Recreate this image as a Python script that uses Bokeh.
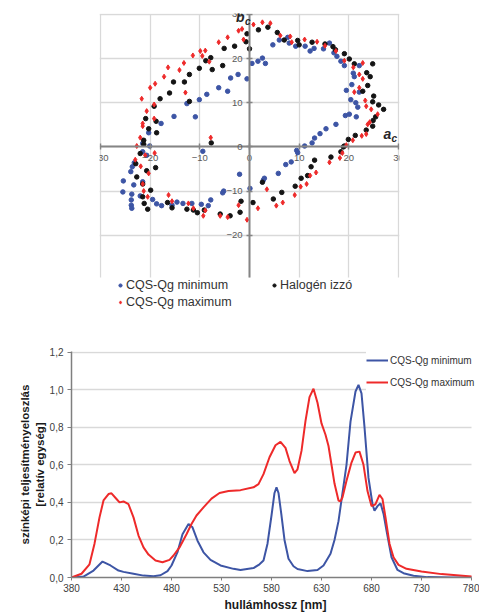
from bokeh.plotting import figure
from bokeh.models import (FixedTicker, Legend, LegendItem, Label, CustomJSTickFormatter, Range1d)
from bokeh.embed import file_html
from bokeh.resources import INLINE

FONT = "Liberation Sans"

# ---------------- data: chroma scatter (a_c, b_c) ----------------
min_a = [-20.3, -20.1, -21.5, -17.8, -15.2, -12.6, -10.9, -10.1, -8.6, -6.2,
         -4.4, -3.8, -2.3, -0.5, 0.5, 1.7, 2.6, 3.2, 4.7, 6.0,
         7.7, 8.0, 9.3, 11.2, 12.2, 13.0, 14.9, 16.1, 17.0, 17.6,
         18.4, 19.1, 20.9, 21.1, 22.1, 20.6, 19.5, 22.1, 20.4, 21.4,
         21.8, 21.5, 20.1, 19.3, 17.4, 15.4, 14.2, 13.1, 12.6, 11.1,
         9.5, 9.7, 8.4, 7.3, 5.8, 3.0, 2.8, 0.1, -2.0, -5.2,
         -5.4, -7.8, -8.3, -9.7, -9.4, -11.6, -13.4, -14.6, -15.6, -17.7,
         -18.7, -19.5, -22.0, -23.7, -23.8, -23.8, -23.7, -25.4, -25.5, -23.3,
         -23.9, -23.6, -23.2, -21.5, -21.5, -20.7]
min_b = [3.2, 0.2, 0.8, 5.3, 6.9, 9.8, 6.8, 10.7, 11.9, 13.4,
         12.6, 15.6, 16.4, 15.4, 18.9, 19.4, 20.1, 18.9, 23.1, 24.2,
         24.8, 23.5, 22.8, 22.8, 21.7, 22.3, 22.2, 23.5, 21.3, 20.5,
         19.4, 18.4, 16.7, 15.9, 18.4, 14.1, 12.8, 12.4, 10.7, 10.0,
         9.0, 6.8, 7.4, 7.1, 5.1, 4.1, 3.0, 2.0, 0.9, 0.2,
         -0.8, -1.3, -3.4, -4.0, -6.0, -7.1, -7.5, -9.4, -6.2, -10.0,
         -10.4, -12.0, -13.3, -13.0, -1.0, -12.8, -12.8, -12.5, -13.2, -13.3,
         -12.9, -11.9, -11.1, -10.7, -12.0, -13.2, -13.9, -7.7, -10.2, -8.6,
         -5.6, -4.5, -3.6, -7.9, -1.1, -1.9]

max_a = [-22.7, -22.0, -21.7, -21.5, -21.5, -20.7, -20.0, -19.2, -19.0, -19.2,
         -17.2, -16.4, -14.1, -13.2, -12.9, -11.4, -9.9, -8.9, -9.5, -8.1,
         -6.2, -4.4, -2.2, -1.5, -1.2, 0.8, 2.6, 4.2, 6.2, 8.2,
         8.5, 11.1, 13.6, 15.2, 17.4, 19.1, 20.9, 22.8, 22.1, 22.8,
         22.1, 21.1, 23.3, 23.5, 24.5, 25.8, 24.2, 23.8, 23.5, 22.6,
         20.8, 19.5, -7.8, -23.0, -21.9, -21.0, -19.1, -20.3, -21.5, -21.3,
         -20.5, -16.3, -15.6, -12.3, -11.3, -9.3, -8.9, -5.9, -4.4, -2.2,
         -0.5, 1.7, 3.5, 5.4, 6.7, 9.1, 10.3, 11.5, 12.2, 13.4,
         16.1, 18.2, 18.7]
max_b = [0.2, 2.1, 10.9, 4.7, 5.3, 8.1, 13.4, 6.4, 14.3, 9.6,
         15.9, 18.0, 17.4, 19.0, 12.3, 20.7, 21.7, 21.8, 20.6, 19.3,
         23.7, 24.8, 26.3, 26.7, 24.3, 27.7, 28.2, 28.0, 25.2, 25.0,
         23.7, 24.3, 23.8, 22.9, 21.7, 19.5, 18.0, 19.0, 16.4, 15.4,
         13.4, 12.4, 10.5, 9.2, 8.5, 7.4, 5.6, 5.1, 2.9, 2.5,
         1.5, 0.4, 2.1, -2.9, -4.4, -1.9, -1.4, -6.0, -8.4, -10.0,
         -11.3, -10.9, -12.3, -12.8, -13.9, -15.6, -14.4, -15.6, -15.9, -13.2,
         -16.5, -13.9, -9.6, -13.3, -12.6, -10.9, -9.0, -8.4, -6.5, -5.8,
         -3.5, -2.5, -1.4]

halo_a = [-21.3, -21.3, -20.9, -20.3, -19.2, -18.8, -18.7, -18.0, -16.1, -15.3,
          -13.1, -12.1, -12.1, -10.1, -8.8, -7.8, -7.5, -5.4, -5.1, -3.0,
          -0.7, -0.5, 0.0, 1.8, 3.7, 5.6, 7.0, 9.7, 10.0, 12.6,
          15.2, 16.8, 17.3, 19.1, 20.1, 21.1, 24.8, 23.6, 24.3, 23.8,
          22.8, 25.0, 24.8, 26.0, 27.0, 25.4, 24.9, 24.8, 23.5, 21.3,
          19.9, 19.1, -7.7, -22.0, -22.9, -22.7, -21.5, -20.7, -18.9, -19.9,
          -21.5, -21.2, -20.5, -16.5, -15.6, -12.6, -11.3, -10.5, -9.1, -5.9,
          -3.9, -1.9, -1.7, 0.7, 2.6, 4.8, 6.5, 9.2, 10.4, 11.7,
          12.4, 13.1, 16.4, 18.4, 18.9]
halo_b = [0.6, 1.5, 6.4, 4.1, 9.2, 5.8, 3.2, 10.9, 12.2, 14.7,
          14.7, 16.4, 10.3, 17.8, 19.5, 20.2, 17.5, 18.4, 22.3, 22.8,
          23.8, 25.6, 22.2, 26.5, 27.1, 25.9, 24.2, 24.1, 23.1, 23.7,
          23.3, 22.7, 22.0, 21.1, 19.9, 18.8, 18.8, 16.8, 15.9, 13.9,
          12.6, 11.5, 10.2, 9.5, 8.5, 6.8, 6.0, 4.7, 3.8, 2.6,
          1.7, 0.2, 0.9, -1.5, -3.8, -6.8, -8.4, -5.4, -4.7, -9.8,
          -11.3, -12.8, -14.1, -12.6, -13.8, -14.1, -14.3, -14.9, -14.3, -15.2,
          -15.6, -14.8, -12.3, -12.6, -8.0, -11.8, -10.3, -8.9, -7.1, -6.5,
          -4.5, -3.0, -2.3, -1.1, 0.0]

scatter_ticks = [-30, -20, -10, 0, 10, 20, 30]
scatter_yticks = [-20, -10, 0, 10, 20, 30]

# ---------------- data: spectral power distributions ----------------
wl_min = [380, 392, 402, 411, 419, 427, 432, 442, 452, 462, 469, 476, 480, 486, 491,
          497, 501, 506, 512, 519, 529, 542, 549, 562, 568, 572, 576, 580, 583, 585,
          587, 590, 593, 597, 602, 606, 616, 626, 632, 639, 643, 647, 651, 655, 659,
          664, 667, 670, 673, 677, 681, 683, 686, 689, 692, 695, 700, 706, 712, 722,
          736, 760, 780]
spd_min = [0.0, 0.005, 0.037, 0.085, 0.064, 0.037, 0.030, 0.020, 0.010, 0.007, 0.012, 0.034, 0.064, 0.135, 0.23,
           0.285, 0.267, 0.196, 0.134, 0.094, 0.064, 0.046, 0.040, 0.05, 0.07, 0.09, 0.18, 0.33, 0.45, 0.48,
           0.45, 0.33, 0.2, 0.1, 0.06, 0.045, 0.034, 0.04, 0.064, 0.126, 0.2, 0.3, 0.45, 0.60, 0.83,
           0.99, 1.025, 0.98, 0.80, 0.53, 0.39, 0.355, 0.38, 0.395, 0.34, 0.25, 0.108, 0.04, 0.023, 0.009,
           0.002, 0.0, 0.0]

wl_max = [380, 390, 398, 403, 408, 412, 417, 420, 425, 428, 432, 437, 442, 447, 452,
          457, 464, 471, 478, 482, 488, 495, 500, 505, 512, 520, 528, 537, 549, 562,
          567, 572, 578, 584, 589, 594, 598, 603, 606, 610, 614, 618, 622, 626, 630,
          634, 637, 640, 643, 647, 649, 651, 655, 660, 664, 668, 672, 676, 680, 684,
          688, 691, 694, 698, 702, 707, 715, 730, 750, 780]
spd_max = [0.0, 0.02, 0.07, 0.18, 0.32, 0.41, 0.444, 0.448, 0.418, 0.40, 0.405, 0.39, 0.32, 0.223, 0.16,
           0.122, 0.09, 0.081, 0.094, 0.117, 0.16, 0.23, 0.285, 0.33, 0.373, 0.42, 0.45, 0.46, 0.465, 0.48,
           0.497, 0.55, 0.64, 0.704, 0.722, 0.69, 0.62, 0.556, 0.576, 0.674, 0.834, 0.96, 1.005, 0.93, 0.82,
           0.76, 0.70, 0.60, 0.50, 0.41, 0.405, 0.427, 0.515, 0.612, 0.665, 0.67, 0.60, 0.46, 0.38, 0.39,
           0.44, 0.418, 0.32, 0.18, 0.108, 0.067, 0.046, 0.032, 0.018, 0.005]

wl_ticks = [380, 430, 480, 530, 580, 630, 680, 730, 780]
spd_ticks = [0.0, 0.2, 0.4, 0.6, 0.8, 1.0, 1.2]

BLUE = "#3d55a5"
RED = "#ee2a2a"
BLACK = "#141414"
GRID = "#d9d9d9"

# ================= top chart =================
p1 = figure(frame_width=300, frame_height=297, output_backend="svg", toolbar_location=None,
            x_range=Range1d(-30.2, 30.2), y_range=Range1d(-37.04, 30.2),
            min_border_left=99, min_border_right=80, min_border_top=13, min_border_bottom=20)
p1.outline_line_color = None

r_min = p1.scatter(min_a, min_b, size=4.5, color=BLUE, marker="circle")
r_halo = p1.scatter(halo_a, halo_b, size=4.5, color=BLACK, marker="circle")
r_max = p1.scatter(max_a, max_b, size=5, color=RED, marker="diamond")

for ax in (p1.xaxis[0], p1.yaxis[0]):
    ax.fixed_location = 0
    ax.axis_line_color = "#858585"
    ax.axis_line_width = 2
    ax.major_tick_line_color = "#858585"
    ax.major_tick_line_width = 1.5
    ax.minor_tick_line_color = None
    ax.major_label_text_font = FONT
    ax.major_label_text_font_size = "9.5px"
    ax.major_label_text_color = "#595959"
    ax.major_tick_in = 3
    ax.major_tick_out = 3

p1.xaxis[0].ticker = FixedTicker(ticks=scatter_ticks)
p1.xaxis[0].bounds = (-30, 30)
p1.xaxis[0].major_label_standoff = 5
p1.yaxis[0].ticker = FixedTicker(ticks=scatter_yticks)
p1.yaxis[0].bounds = (-29.5, 30)
p1.yaxis[0].major_label_standoff = 4

p1.xgrid.ticker = FixedTicker(ticks=scatter_ticks)
p1.ygrid.ticker = FixedTicker(ticks=scatter_yticks)
p1.xgrid.cross_bounds = (-29.5, 30)
for g in (p1.xgrid[0], p1.ygrid[0]):
    g.grid_line_color = GRID
    g.grid_line_width = 1.3

p1.add_layout(Label(x=27.0, y=1.1, text="a", text_font=FONT, text_font_style="bold italic",
                    text_font_size="14px", text_color="#262626"))
p1.add_layout(Label(x=28.6, y=0.6, text="c", text_font=FONT, text_font_style="bold italic",
                    text_font_size="10px", text_color="#262626"))
p1.add_layout(Label(x=-2.7, y=27.6, text="b", text_font=FONT, text_font_style="bold italic",
                    text_font_size="14px", text_color="#262626"))
p1.add_layout(Label(x=-0.9, y=27.1, text="c", text_font=FONT, text_font_style="bold italic",
                    text_font_size="10px", text_color="#262626"))

def top_legend(items, loc):
    lg = Legend(items=items, location=loc, padding=0, spacing=3, glyph_width=8, glyph_height=8,
                label_standoff=2, label_height=14, margin=0,
                background_fill_color="white", background_fill_alpha=1.0, border_line_color=None,
                label_text_font=FONT, label_text_font_size="12.5px", label_text_color="#333333")
    p1.add_layout(lg)

top_legend([LegendItem(label="CQS-Qg minimum", renderers=[r_min]),
            LegendItem(label="CQS-Qg maximum", renderers=[r_max])], (17, 1))
top_legend([LegendItem(label="Halogén izzó", renderers=[r_halo])], (171, 18))

# ================= bottom chart =================
p2 = figure(frame_width=408, frame_height=226, output_backend="svg", toolbar_location=None,
            x_range=Range1d(380, 788), y_range=Range1d(0, 1.203),
            min_border_left=71, min_border_right=0, min_border_top=21, min_border_bottom=35)
p2.outline_line_color = None

l_min = p2.line(wl_min, spd_min, line_color=BLUE, line_width=2)
l_max = p2.line(wl_max, spd_max, line_color=RED, line_width=2)

p2.xgrid.visible = False
p2.ygrid.ticker = FixedTicker(ticks=spd_ticks)
p2.ygrid.cross_bounds = (380, 780)
p2.ygrid.grid_line_color = GRID
p2.ygrid.grid_line_width = 1.3

for ax in (p2.xaxis[0], p2.yaxis[0]):
    ax.axis_line_color = "#7f7f7f"
    ax.axis_line_width = 1.5
    ax.major_tick_line_color = "#7f7f7f"
    ax.minor_tick_line_color = None
    ax.major_tick_in = 0
    ax.major_label_text_font = FONT
    ax.major_label_text_font_size = "10px"
    ax.major_label_text_color = "#404040"
    ax.axis_label_text_font = FONT
    ax.axis_label_text_font_style = "bold"
    ax.axis_label_text_color = "#1a1a1a"

p2.xaxis[0].ticker = FixedTicker(ticks=wl_ticks)
p2.xaxis[0].bounds = (380, 780)
p2.xaxis[0].major_tick_out = 3
p2.xaxis[0].major_label_standoff = 3
p2.xaxis[0].axis_label = "hullámhossz [nm]"
p2.xaxis[0].axis_label_text_font_size = "12px"
p2.xaxis[0].axis_label_standoff = 3

p2.yaxis[0].ticker = FixedTicker(ticks=spd_ticks)
p2.yaxis[0].formatter = CustomJSTickFormatter(code="return tick.toFixed(1).replace('.', ',');")
p2.yaxis[0].major_tick_out = 4
p2.yaxis[0].major_label_standoff = 4
p2.yaxis[0].axis_label = "színképi teljesítményeloszlás\n[relatív egység]"
p2.yaxis[0].axis_label_text_font_size = "11.5px"
p2.yaxis[0].axis_label_standoff = 1

lg2 = Legend(items=[LegendItem(label="CQS-Qg minimum", renderers=[l_min]),
                    LegendItem(label="CQS-Qg maximum", renderers=[l_max])],
             location=(295, 185), padding=4, spacing=2, glyph_width=22, glyph_height=20,
             label_standoff=2, label_height=20, margin=0,
             background_fill_color="white", background_fill_alpha=1.0, border_line_color=None,
             label_text_font=FONT, label_text_font_size="10px", label_text_color="#333333")
p2.add_layout(lg2)

open("out.html", "w").write(file_html([p1, p2], INLINE))
